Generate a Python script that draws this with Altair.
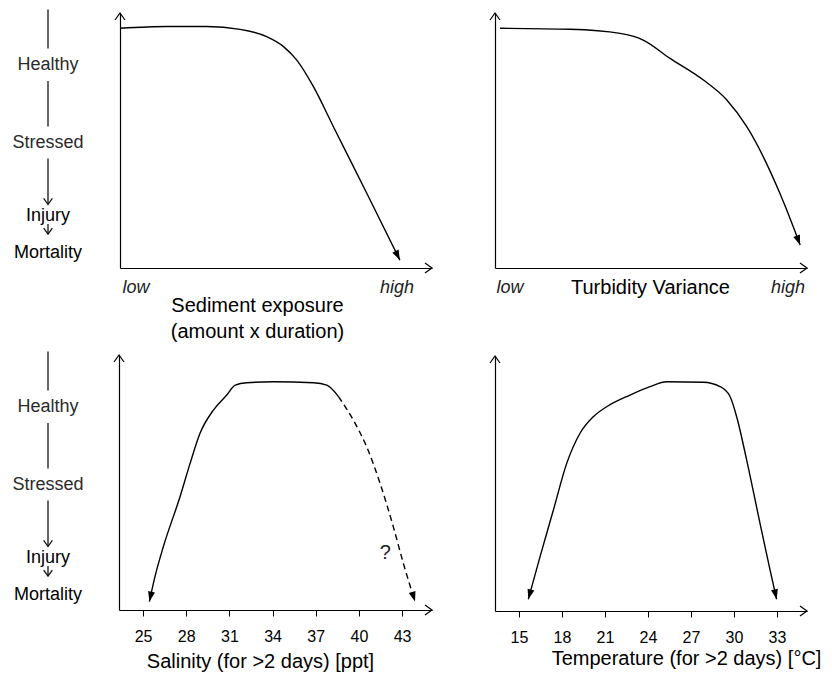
import math
import altair as alt
import pandas as pd

FONT = "Liberation Sans"

# ---------------- data ----------------
# Sediment exposure (x: 0 = low, 1 = high; y: 0 = mortality, 1 = top of axis)
sed_x = [0.0, 0.150, 0.278, 0.385, 0.470, 0.524, 0.566, 0.620, 0.684, 0.791, 0.897]
sed_y = [0.940, 0.947, 0.947, 0.936, 0.907, 0.868, 0.816, 0.711, 0.554, 0.293, 0.031]

# Turbidity variance
turb_x = [0.016, 0.240, 0.401, 0.475, 0.561, 0.668, 0.743, 0.807, 0.860, 0.913, 0.956, 0.978]
turb_y = [0.940, 0.936, 0.920, 0.894, 0.822, 0.737, 0.659, 0.554, 0.436, 0.293, 0.162, 0.090]

# Salinity (ppt), solid part and dashed (uncertain) part
sal_x = [25.44, 25.83, 26.41, 27.57, 28.27, 28.96, 29.89, 30.82, 31.41, 32.21, 34.06, 36.84, 37.77, 38.58]
sal_y = [0.033, 0.131, 0.248, 0.444, 0.575, 0.693, 0.784, 0.843, 0.882, 0.891, 0.895, 0.891, 0.882, 0.837]
sal_dash_x = [38.58, 39.61, 40.54, 41.47, 42.39, 43.09, 43.90]
sal_dash_y = [0.837, 0.745, 0.640, 0.497, 0.327, 0.183, 0.033]
sal_ticks = [25, 28, 31, 34, 37, 40, 43]
sal_q = ["?"]
sal_q_x = [41.84]
sal_q_y = [0.222]

# Temperature (°C)
temp_x = [15.65, 16.47, 17.40, 18.33, 19.26, 20.19, 21.12, 22.75, 24.14, 25.31, 27.86,
          29.03, 29.73, 30.19, 30.89, 31.82, 32.52, 32.98]
temp_y = [0.046, 0.213, 0.396, 0.579, 0.697, 0.762, 0.801, 0.847, 0.880, 0.899, 0.897,
          0.880, 0.841, 0.762, 0.592, 0.344, 0.161, 0.046]
temp_ticks = [15, 18, 21, 24, 27, 30, 33]

# condition scale on the left
state_labels = ["Healthy", "Stressed", "Injury", "Mortality"]
state_y = [0.796, 0.492, 0.202, 0.057]
state_color = ["#2a2a2a", "#2a2a2a", "#000000", "#000000"]
stem_y1 = [1.014, 0.733, 0.429, 0.173]
stem_y2 = [0.861, 0.555, 0.249, 0.133]
stem_arrow = [False, False, True, True]

# low / high end labels of the two top panels
lowhigh = ["low", "high"]
sed_lh_x = [0.051, 0.888]
turb_lh_x = [0.048, 0.939]
lh_y = [-0.078, -0.078]

# ---------------- layout (pixels inside the svg) ----------------
W, H = 816, 665
TL_X, TL_Y = [112, 424], [260, 5]
TR_X, TR_Y = [487, 799], [260, 5]
BL_X, BL_Y = [111, 424], [602, 347]
BR_X, BR_Y = [487, 799], [603, 348]
LABEL_COL_X = 40

TRI = "M0,0L-0.35,-1L0.35,-1Z"          # filled arrow head pointing down, tip at origin
CHEV_UP = "M-0.5,0.7L0,0L0.5,0.7"       # open arrow head pointing up
CHEV_DOWN = "M-0.5,-0.7L0,0L0.5,-0.7"   # open arrow head pointing down


def to_px(v, dom, rng):
    return rng[0] + (v - dom[0]) / (dom[1] - dom[0]) * (rng[1] - rng[0])


def head_angle(xs, ys, i_from, i_to, xd, xr, yd, yr):
    dx = to_px(xs[i_to], xd, xr) - to_px(xs[i_from], xd, xr)
    dy = to_px(ys[i_to], yd, yr) - to_px(ys[i_from], yd, yr)
    return (-math.degrees(math.atan2(dx, dy))) % 360


def enc_x(dom, rng, axis):
    return alt.X("x:Q", scale=alt.Scale(domain=dom, range=rng, nice=False, zero=False), axis=axis)


def enc_y(rng, axis):
    return alt.Y("y:Q", scale=alt.Scale(domain=[0, 1], range=rng, nice=False, zero=False), axis=axis)


def build_panel(xd, xr, yr, xaxis, curves, heads, texts, label_column):
    yaxis = alt.Axis(orient="left", offset=-xr[0], domain=True, domainColor="black",
                     domainWidth=1.2, ticks=False, labels=False, grid=False, title=None)
    X = lambda: enc_x(xd, xr, xaxis)
    Y = lambda: enc_y(yr, yaxis)
    layers = []
    for xs, ys, dash in curves:
        df = pd.DataFrame({"x": xs, "y": ys, "o": list(range(len(xs)))})
        kw = dict(color="black", strokeWidth=1.4, interpolate="monotone")
        if dash:
            kw["strokeDash"] = [6, 4]
        layers.append(alt.Chart(df).mark_line(**kw).encode(x=X(), y=Y(), order="o:Q"))
    for hx, hy, ang in heads:
        df = pd.DataFrame({"x": [hx], "y": [hy]})
        layers.append(alt.Chart(df).mark_point(shape=TRI, filled=True, color="black", size=400,
                                               angle=ang, opacity=1, strokeWidth=0)
                      .encode(x=X(), y=Y()))
    # axis arrow heads
    df = pd.DataFrame({"x": [xd[0]], "y": [1.0]})
    layers.append(alt.Chart(df).mark_point(shape=CHEV_UP, filled=False, color="black", size=400,
                                           opacity=1, strokeWidth=1.2).encode(x=X(), y=Y()))
    df = pd.DataFrame({"x": [xd[1]], "y": [0.0]})
    layers.append(alt.Chart(df).mark_point(shape=CHEV_UP, filled=False, color="black", size=400,
                                           angle=90, opacity=1, strokeWidth=1.2).encode(x=X(), y=Y()))
    for tl, tx, ty, style in texts:
        df = pd.DataFrame({"x": tx, "y": ty, "t": tl})
        layers.append(alt.Chart(df).mark_text(font=FONT, baseline="middle", align="center", **style)
                      .encode(x=X(), y=Y(), text="t:N"))
    if label_column:
        df = pd.DataFrame({"y": state_y, "t": state_labels, "c": state_color})
        layers.append(alt.Chart(df).mark_text(font=FONT, fontSize=18, baseline="middle", align="center")
                      .encode(x=alt.value(LABEL_COL_X), y=Y(), text="t:N",
                              color=alt.Color("c:N", scale=None)))
        df = pd.DataFrame({"y": stem_y1, "y2": stem_y2})
        layers.append(alt.Chart(df).mark_rule(color="#111111", strokeWidth=1.3)
                      .encode(x=alt.value(LABEL_COL_X), y=Y(), y2="y2:Q"))
        df = pd.DataFrame({"y": [b for b, a in zip(stem_y2, stem_arrow) if a]})
        layers.append(alt.Chart(df).mark_point(shape=CHEV_DOWN, filled=False, color="#111111",
                                               size=300, opacity=1, strokeWidth=1.3)
                      .encode(x=alt.value(LABEL_COL_X), y=Y()))
    return alt.layer(*layers)


title_style = dict(titleFont=FONT, titleFontSize=20, titleFontWeight="normal", titleColor="black",
                   titleAlign="center", titleBaseline="alphabetic", titleLineHeight=26)

# ---- top left: sediment exposure
xd = [0, 1]
ax_tl = alt.Axis(orient="bottom", offset=TL_Y[0] - H, domain=True, domainColor="black", domainWidth=1.2,
                 ticks=False, labels=False, grid=False,
                 title=["Sediment exposure", "(amount x duration)"], titleX=249, titleY=43, **title_style)
tl = build_panel(
    xd, TL_X, TL_Y, ax_tl,
    curves=[(sed_x, sed_y, False)],
    heads=[(sed_x[-1], sed_y[-1], head_angle(sed_x, sed_y, -2, -1, xd, TL_X, [0, 1], TL_Y))],
    texts=[(lowhigh, sed_lh_x, lh_y, dict(fontSize=18, fontStyle="italic", color="#222222"))],
    label_column=True)

# ---- top right: turbidity variance
ax_tr = alt.Axis(orient="bottom", offset=TR_Y[0] - H, domain=True, domainColor="black", domainWidth=1.2,
                 ticks=False, labels=False, grid=False,
                 title="Turbidity Variance", titleX=642, titleY=25, **title_style)
tr = build_panel(
    xd, TR_X, TR_Y, ax_tr,
    curves=[(turb_x, turb_y, False)],
    heads=[(turb_x[-1], turb_y[-1], head_angle(turb_x, turb_y, -2, -1, xd, TR_X, [0, 1], TR_Y))],
    texts=[(lowhigh, turb_lh_x, lh_y, dict(fontSize=18, fontStyle="italic", color="#222222"))],
    label_column=False)

tick_style = dict(ticks=True, tickSize=6, tickColor="black", tickWidth=1, labels=True,
                  labelFont=FONT, labelFontSize=16, labelColor="black", labelPadding=12,
                  labelFlush=False, labelOverlap=False, grid=False)

# ---- bottom left: salinity
sal_d = [23.33, 45.08]
ax_bl = alt.Axis(orient="bottom", offset=BL_Y[0] - H, domain=True, domainColor="black", domainWidth=1.2,
                 values=sal_ticks, format="d", title="Salinity (for >2 days) [ppt]",
                 titleX=252, titleY=57, **tick_style, **title_style)
bl = build_panel(
    sal_d, BL_X, BL_Y, ax_bl,
    curves=[(sal_x, sal_y, False), (sal_dash_x, sal_dash_y, True)],
    heads=[(sal_x[0], sal_y[0], head_angle(sal_x, sal_y, 1, 0, sal_d, BL_X, [0, 1], BL_Y)),
           (sal_dash_x[-1], sal_dash_y[-1],
            head_angle(sal_dash_x, sal_dash_y, -2, -1, sal_d, BL_X, [0, 1], BL_Y))],
    texts=[(sal_q, sal_q_x, sal_q_y, dict(fontSize=20, color="#222222"))],
    label_column=True)

# ---- bottom right: temperature
temp_d = [13.325, 35.10]
ax_br = alt.Axis(orient="bottom", offset=BR_Y[0] - H, domain=True, domainColor="black", domainWidth=1.2,
                 values=temp_ticks, format="d", title="Temperature (for >2 days) [°C]",
                 titleX=678, titleY=53, **tick_style, **title_style)
br = build_panel(
    temp_d, BR_X, BR_Y, ax_br,
    curves=[(temp_x, temp_y, False)],
    heads=[(temp_x[0], temp_y[0], head_angle(temp_x, temp_y, 1, 0, temp_d, BR_X, [0, 1], BR_Y)),
           (temp_x[-1], temp_y[-1], head_angle(temp_x, temp_y, -2, -1, temp_d, BR_X, [0, 1], BR_Y))],
    texts=[],
    label_column=False)

chart = (
    alt.layer(tl, tr, bl, br)
    .resolve_scale(x="independent", y="independent")
    .properties(width=W, height=H, padding=0, autosize=alt.AutoSizeParams(type="none"),
                background="white")
    .configure_view(strokeWidth=0)
)

chart.save("out.html", embed_options={"renderer": "svg", "actions": False})
